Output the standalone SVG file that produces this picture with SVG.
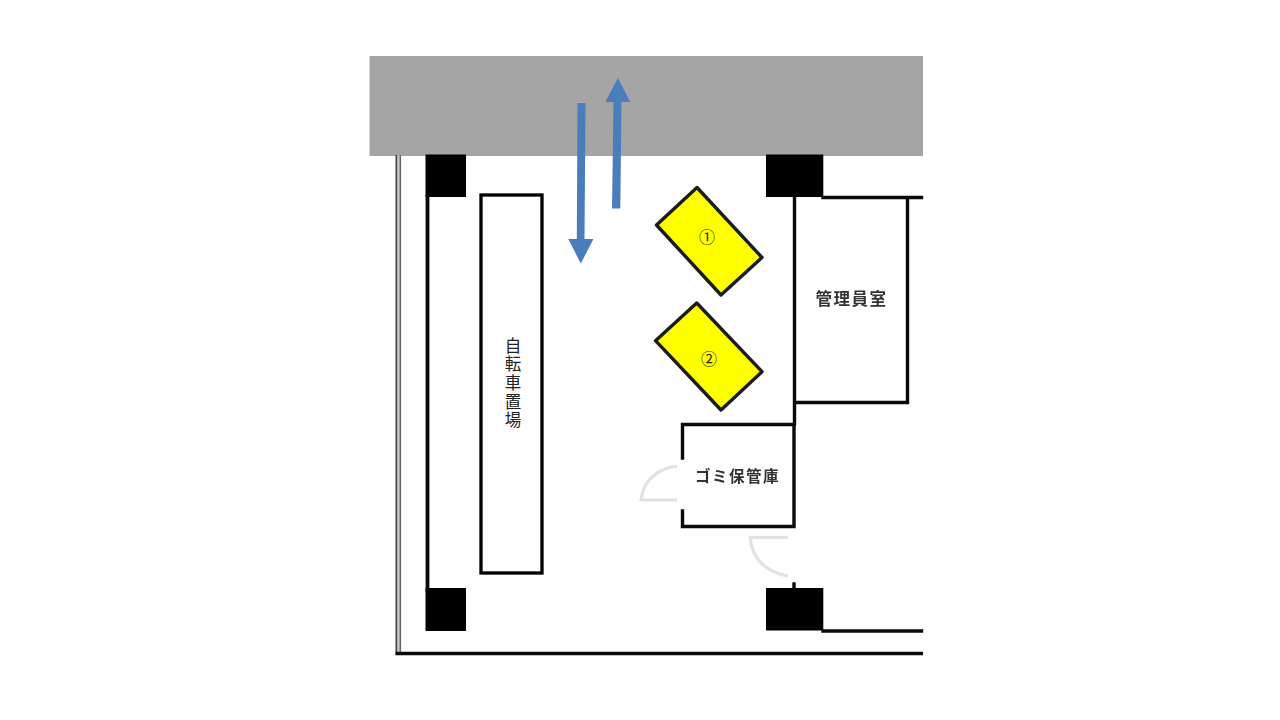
<svg xmlns="http://www.w3.org/2000/svg" width="1280" height="720" viewBox="0 0 1280 720">
<style>
.wall{fill:none;stroke:#0a0a0a;stroke-width:3.400;stroke-linecap:square}
.col{fill:#000}
.bike{fill:#fff;stroke:#000;stroke-width:3.300}
.unit{fill:#ffff00;stroke:#1c1c1c;stroke-width:3.400;stroke-linejoin:round}
.door{fill:none;stroke:#e2e2e2;stroke-width:3.200}
.arrow{fill:#4a7ebb}
.t{font-family:"Noto Sans CJK JP","Liberation Sans",sans-serif;text-anchor:middle}
.room{font-size:16.500px;font-weight:700;fill:#333;letter-spacing:1.500px;filter:url(#soft)}
.thin{font-size:16px;fill:#222}
</style>
<defs><filter id="soft" x="-10%" y="-30%" width="120%" height="160%"><feGaussianBlur stdDeviation="0.6"/></filter></defs>
<rect width="1280" height="720" fill="#fff"/>
<rect id="road" x="369.500" y="56" width="553.500" height="100" fill="#a5a5a5"/>
<g id="outer-wall">
<line x1="396.500" y1="155" x2="396.500" y2="654" stroke="#444" stroke-width="2"/>
<line x1="398.500" y1="155" x2="398.500" y2="652" stroke="#c4c4c4" stroke-width="2"/>
<line x1="400.300" y1="155" x2="400.300" y2="652" stroke="#666" stroke-width="1.600"/>
<line x1="395.500" y1="653.500" x2="923" y2="653.500" stroke="#0a0a0a" stroke-width="3.300"/>
</g>
<g id="columns">
<rect class="col" x="425.500" y="154.500" width="40.500" height="42.500"/>
<rect class="col" x="766" y="154.500" width="57.300" height="42.500"/>
<rect class="col" x="425.500" y="588" width="40.500" height="43"/>
<rect class="col" x="766" y="588" width="57.300" height="42.500"/>
</g>
<g id="walls">
<line class="wall" x1="427.500" y1="197" x2="427.500" y2="590" style="stroke-width:3.800"/>
<line class="wall" x1="823" y1="631" x2="921.500" y2="631"/>
<line class="wall" x1="794" y1="584" x2="794" y2="590"/>
</g>
<g id="bicycle-parking">
<rect class="bike" x="481" y="195" width="61" height="378"/>
<text class="t thin" x="513" y="337" writing-mode="vertical-rl" style="text-anchor:start;font-size:16.500px;letter-spacing:2.200px">自転車置場</text>
</g>
<g id="unit-1">
<polygon class="unit" points="697,187.500 656.500,225 721,295 762,257.500"/>
<text class="t thin" x="707" y="243">①</text>
</g>
<g id="unit-2">
<polygon class="unit" points="696.700,303 655.500,340.700 721,410 762,371.700"/>
<text class="t thin" x="709" y="365">②</text>
</g>
<g id="office">
<path class="wall" d="M794.500 197.500V424M823 197.500H921.500M907.500 197.500V402.500H794.500"/>
<text class="t room" x="851.500" y="305">管理員室</text>
</g>
<g id="garbage-room">
<path class="wall" d="M682.500 458V424.500H794V526.500H682.500V511"/>
<path class="door" d="M677 466C655 469 643 482 641 500H677"/>
<path class="door" d="M788 537.500H750C752 558 765 572 788 576"/>
<text class="t room" x="737.500" y="482" style="font-size:15.500px">ゴミ保管庫</text>
</g>
<g id="connectors">
<path class="arrow" d="M577.500 103H585.500L584.500 239H593.500L580.800 263.500L568.300 239H576.800Z"/>
<path class="arrow" d="M612 208.500L620.300 208.500L621.500 102H630.300L617.800 78L605.300 102H613.500Z"/>
</g>
</svg>
